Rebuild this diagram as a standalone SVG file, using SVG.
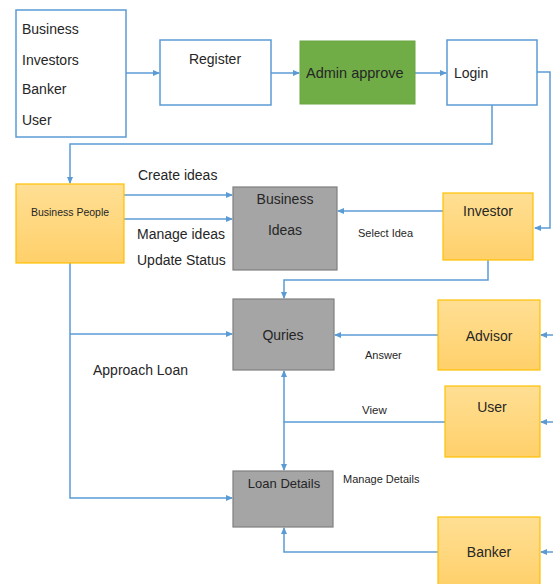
<svg xmlns="http://www.w3.org/2000/svg" width="553" height="584" viewBox="0 0 553 584">
<style>
text{font-family:"Liberation Sans",Arial,sans-serif;fill:#262626;font-size:14px}
.wb{fill:#fff;stroke:#5B9BD5;stroke-width:1.5}
.gr{fill:#A5A5A5;stroke:#7F7F7F;stroke-width:1.2}
.yl{fill:url(#yg);stroke:#FFC000;stroke-width:1.2}
.c{fill:none;stroke:#5B9BD5;stroke-width:1.5}
.a{marker-end:url(#ah)}
.s{font-size:11px}
.m{text-anchor:middle}
</style>
<defs>
<linearGradient id="yg" x1="0" y1="0" x2="0" y2="1"><stop offset="0" stop-color="#FFDF94"/><stop offset="1" stop-color="#FFD06A"/></linearGradient>
<marker id="ah" markerWidth="7" markerHeight="6" refX="6" refY="3" orient="auto" markerUnits="userSpaceOnUse"><path d="M0,0 L7,3 L0,6 z" fill="#5B9BD5"/></marker>
</defs>
<g id="connectors">
<path class="c a" d="M126,73 H159"/>
<path class="c a" d="M271,73 H299"/>
<path class="c a" d="M415,73 H446"/>
<path class="c a" d="M537,72 H550 V228 H535"/>
<path class="c a" d="M492,105 V144 H70 V183"/>
<path class="c a" d="M124,195 H232"/>
<path class="c a" d="M124,219 H232"/>
<path class="c a" d="M443,211 H338"/>
<path class="c a" d="M488,260 V280 H284 V298"/>
<path class="c a" d="M70,263 V498 H232"/>
<path class="c a" d="M70,334 H232"/>
<path class="c a" d="M438,335 H335"/>
<path class="c a" d="M445,422 H284 V371"/>
<path class="c a" d="M284,422 V470"/>
<path class="c a" d="M438,552 H284 V528"/>
<path class="c a" d="M553,335 H541"/>
<path class="c a" d="M553,422 H541"/>
<path class="c a" d="M553,552 H541"/>
</g>
<g id="roles"><rect class="wb" x="16" y="10" width="110" height="127"/>
<text x="22" y="34">Business</text><text x="22" y="65">Investors</text><text x="22" y="94">Banker</text><text x="22" y="125">User</text></g>
<g id="register"><rect class="wb" x="160" y="40" width="111" height="65"/><text class="m" x="215" y="64">Register</text></g>
<g id="admin"><rect x="300" y="41" width="115" height="63" fill="#70AD47" stroke="#6AA542"/><text x="306" y="78" style="font-size:14.5px">Admin approve</text></g>
<g id="login"><rect class="wb" x="447" y="40" width="90" height="65"/><text x="454" y="78">Login</text></g>
<g id="business-people"><rect class="yl" x="16" y="184" width="108" height="79"/><text class="m" x="70" y="216" style="font-size:10.5px">Business People</text></g>
<text x="138" y="180">Create ideas</text>
<text x="137" y="239">Manage ideas</text>
<text x="137" y="265">Update Status</text>
<g id="business-ideas"><rect class="gr" x="233" y="187" width="104" height="83"/><text class="m" x="285" y="204">Business</text><text class="m" x="285" y="235">Ideas</text></g>
<g id="investor"><rect class="yl" x="443" y="193" width="90" height="67"/><text class="m" x="488" y="216">Investor</text></g>
<text class="s" x="358" y="237">Select Idea</text>
<g id="quries"><rect class="gr" x="233" y="299" width="101" height="71"/><text class="m" x="283" y="340">Quries</text></g>
<g id="advisor"><rect class="yl" x="438" y="300" width="102" height="70"/><text class="m" x="489" y="341">Advisor</text></g>
<text class="s" x="365" y="359">Answer</text>
<text x="93" y="375">Approach Loan</text>
<g id="user"><rect class="yl" x="445" y="386" width="95" height="71"/><text class="m" x="492" y="412">User</text></g>
<text class="s" x="362" y="414" style="font-size:11.5px">View</text>
<g id="loan-details"><rect class="gr" x="233" y="471" width="100" height="56"/><text class="m" x="284" y="488" style="font-size:13px">Loan Details</text></g>
<text class="s" x="343" y="483">Manage Details</text>
<g id="banker"><rect class="yl" x="438" y="517" width="102" height="70"/><text class="m" x="489" y="557">Banker</text></g>
</svg>
